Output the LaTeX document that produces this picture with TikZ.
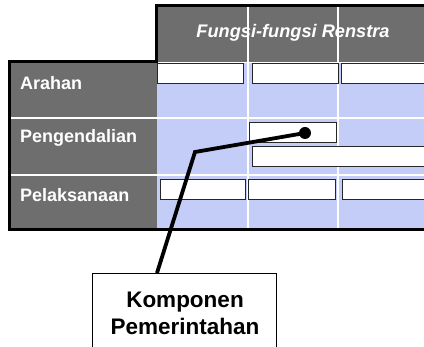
\documentclass[tikz,border=0pt]{standalone}
\usepackage{fontspec}
\setmainfont{Liberation Sans}
\usetikzlibrary{shadows}
\definecolor{hdrgray}{RGB}{110,110,110}
\definecolor{cellblue}{RGB}{196,204,248}
\tikzset{
  cellbox/.style={draw=black!85, fill=white, line width=0.9pt, inner sep=0pt, anchor=north west,
    minimum height=20pt, drop shadow={shadow xshift=1pt, shadow yshift=-1pt, fill=black!45, opacity=1}},
  rowlabel/.style={anchor=west, text=white, font=\fontsize{18}{21}\selectfont\bfseries, inner sep=0pt},
  hdrtext/.style={text=white, font=\fontsize{18.2}{21}\selectfont\bfseries\itshape, inner sep=0pt},
  gridline/.style={white, line width=1.2pt},
  frameline/.style={black, line width=3pt},
}
\begin{document}
\begin{tikzpicture}[x=1pt,y=-1pt]
\useasboundingbox (0,0) rectangle (424,347);
\clip (0,0) rectangle (424,347);
% areas
\fill[cellblue] (157,63) rectangle (430,229);
\fill[hdrgray] (157,7) rectangle (430,62);
\fill[hdrgray] (10,63) rectangle (157,229);
% grid lines
\draw[gridline] (10,118) -- (430,118);
\draw[gridline] (10,175) -- (430,175);
\draw[gridline] (248,7) -- (248,229);
\draw[gridline] (338,7) -- (338,229);
% frame
\draw[frameline] (430,6) -- (156,6) -- (156,62) -- (9,62) -- (9,230) -- (430,230);
% texts
\node[hdrtext] (hdr) at (293,33) {Fungsi-fungsi Renstra};
\node[rowlabel] (arahan) at (20,83) {Arahan};
\node[rowlabel] (pengendalian) at (20,138) {Pengendalian};
\node[rowlabel] (pelaksanaan) at (20,195) {Pelaksanaan};
% cell boxes
\node[cellbox, minimum width=86pt] (a1) at (157,63) {};
\node[cellbox, minimum width=86pt] (a2) at (252,63) {};
\node[cellbox, minimum width=92pt] (a3) at (341,63) {};
\node[cellbox, minimum width=87pt] (p1) at (249,122) {};
\node[cellbox, minimum width=180pt] (p2) at (252,146) {};
\node[cellbox, minimum width=85pt] (l1) at (160,179) {};
\node[cellbox, minimum width=87pt] (l2) at (248,179) {};
\node[cellbox, minimum width=92pt] (l3) at (342,179) {};
% bottom box
\node[draw=black, line width=1.2pt, fill=white, anchor=north west, minimum width=184pt, minimum height=90pt, inner sep=0pt] (box) at (92,273) {};
\node[align=center, font=\fontsize{22.5}{27}\selectfont\bfseries, inner sep=0pt] (boxtext) at (185,313) {Komponen\\Pemerintahan};
% connector
\node[circle, fill=black, minimum size=12pt, inner sep=0pt] (dot) at (305,133) {};
\coordinate (bend) at (195,152);
\coordinate (tip) at (157,273);
\draw[line width=3.8pt] (dot.center) -- (bend) -- (tip);
\end{tikzpicture}
\end{document}
